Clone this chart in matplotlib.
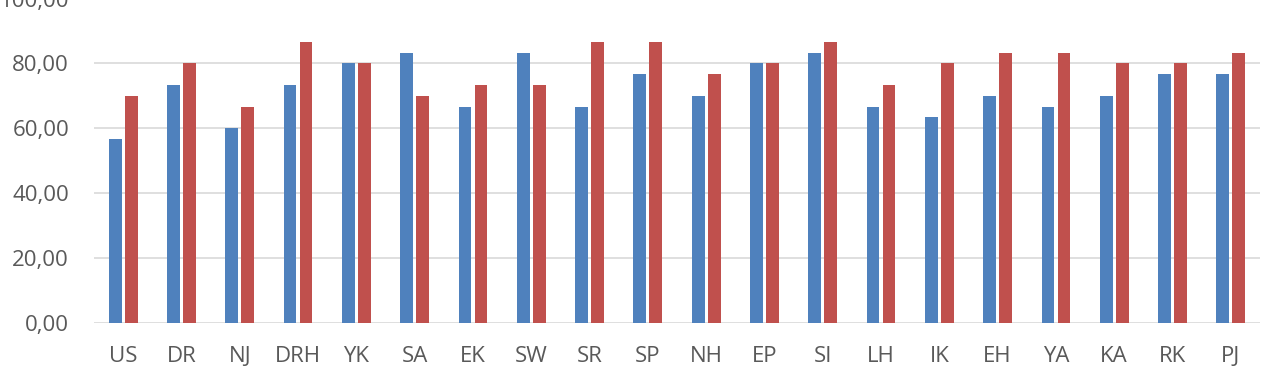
import numpy as np
import matplotlib.pyplot as plt
from matplotlib.ticker import FuncFormatter

categories = ["US", "DR", "NJ", "DRH", "YK", "SA", "EK", "SW", "SR", "SP",
              "NH", "EP", "SI", "LH", "IK", "EH", "YA", "KA", "RK", "PJ"]
series_blue = [56.67, 73.33, 60.00, 73.33, 80.00, 83.33, 66.67, 83.33, 66.67, 76.67,
               70.00, 80.00, 83.33, 66.67, 63.33, 70.00, 66.67, 70.00, 76.67, 76.67]
series_red = [70.00, 80.00, 66.67, 86.67, 80.00, 70.00, 73.33, 73.33, 86.67, 86.67,
              76.67, 80.00, 86.67, 73.33, 80.00, 83.33, 83.33, 80.00, 80.00, 83.33]
y_ticks = [0, 20, 40, 60, 80, 100]

plt.rcParams['font.family'] = ['Open Sans', 'DejaVu Sans']

fig = plt.figure(figsize=(12.67, 3.83), dpi=100)
ax = fig.add_axes([94 / 1267, 0.1574, 1166 / 1267, 0.8465])

x = np.arange(len(categories))
width = 0.22
offset = 0.137
ax.bar(x - offset, series_blue, width, color="#4F81BD", zorder=3)
ax.bar(x + offset, series_red, width, color="#C0504D", zorder=3)

ax.set_xlim(-0.5, len(categories) - 0.5)
ax.set_ylim(0, 100)
ax.set_yticks(y_ticks)
ax.yaxis.set_major_formatter(FuncFormatter(lambda v, p: f"{v:.2f}".replace(".", ",")))
ax.set_xticks(x)
ax.set_xticklabels(categories)

ax.grid(axis='y', color="#D9D9D9", linewidth=1.2, zorder=0)
for s in ax.spines.values():
    s.set_visible(False)
ax.tick_params(axis='both', length=0, colors="#595959", labelsize=16)
ax.tick_params(axis='y', pad=18)
ax.tick_params(axis='x', pad=17)

fig.savefig("out.png", dpi=100)
